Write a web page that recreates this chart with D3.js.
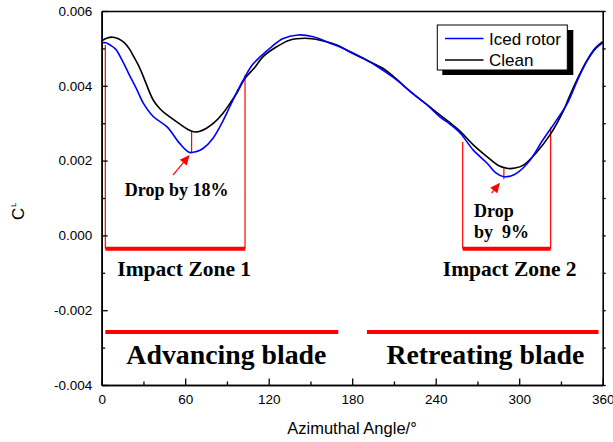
<!DOCTYPE html>
<html>
<head>
<meta charset="utf-8">
<script src="https://cdn.jsdelivr.net/npm/d3@7"></script>
<style>
html,body{margin:0;padding:0;background:#fff;}
svg{display:block;}
</style>
</head>
<body>
<svg id="chart" width="613" height="442"></svg>
<script>
// ---------- data ----------
const seriesNames = ["Iced rotor", "Clean"];
const angleIced = [0,3,6,10,15,20,25,30,37,47,56,63,68,73,80,86,92,98,103,108,114,121,130,141,152,164,176,188,200,210,222,234,243,250,258,267,277,283,289,294,298,303,308,317,327,335,342,349,355,360];
const clIced    = [0.00515,0.00515,0.00509,0.00498,0.00466,0.00428,0.00392,0.00353,0.00318,0.00290,0.00246,0.00222,0.00224,0.00233,0.00260,0.00298,0.00344,0.00390,0.00424,0.00455,0.00478,0.00501,0.00526,0.00536,0.00531,0.00514,0.00496,0.00474,0.00447,0.00421,0.00384,0.00348,0.00317,0.00298,0.00272,0.00228,0.00193,0.00168,0.00157,0.00159,0.00166,0.00181,0.00202,0.00255,0.00309,0.00356,0.00416,0.00468,0.00500,0.00515];
const angleClean = [0,4,8,12,16,20,23,27,30,37,42,47,56,62,66,70,75,81,87,92,97,103,110,116,126,135,146,157,169,178,190,202,210,222,234,243,250,258,267,277,285,292,297,303,312,322,332,335,342,349,355,360];
const clClean    = [0.00520,0.00528,0.00530,0.00526,0.00516,0.00498,0.00478,0.00450,0.00424,0.00362,0.00338,0.00322,0.00298,0.00283,0.00277,0.00278,0.00286,0.00302,0.00326,0.00352,0.00380,0.00420,0.00449,0.00478,0.00505,0.00522,0.00527,0.00522,0.00509,0.00491,0.00469,0.00447,0.00424,0.00384,0.00349,0.00322,0.00302,0.00277,0.00242,0.00210,0.00187,0.00179,0.00180,0.00188,0.00220,0.00268,0.00335,0.00362,0.00420,0.00470,0.00502,0.00518];

const xTicks = [0,60,120,180,240,300,360];
const xTickLabels = ["0","60","120","180","240","300","360"];
const xMinor = [30,90,150,210,270,330];
const yTicks = [-0.004,-0.002,0,0.002,0.004,0.006];
const yTickLabels = ["-0.004","-0.002","0.000","0.002","0.004","0.006"];
const yMinor = [-0.003,-0.001,0.001,0.003,0.005];

// annotations (data units)
const dropLines = [{a:64.6, hi:0.00277, lo:0.00222},{a:289, hi:0.00179, lo:0.00150}];
const arrows = [{a0:51.2, v0:0.00161, a1:63.2, v1:0.00215},{a0:280.2, v0:0.00113, a1:286.2, v1:0.00141}];
const zones = [{a0:2.6, a1:103, top0:0.00509, top1:0.00429, base:-0.00036, label:"Impact Zone 1", la:59.3},
               {a0:259.4, a1:322.6, top0:0.00250, top1:0.00289, base:-0.00036, label:"Impact Zone 2", la:293.2}];
const zoneLabelY = -0.00109;
const blades = [{a0:2.6, a1:170, label:"Advancing blade", la:89.6},{a0:190.6, a1:357, label:"Retreating blade", la:275.7}];
const bladeLineY = -0.00258, bladeLabelY = -0.00344;

// ---------- drawing ----------
const svg = d3.select("#chart");
const x = d3.scaleLinear().domain([0,360]).range([101.7,602.7]);
const y = d3.scaleLinear().domain([-0.004,0.006]).range([385,11]);
const sans = "'Liberation Sans', Arial, sans-serif";
const serif = "'Liberation Serif', 'Times New Roman', serif";

// red annotation lines (under curves)
const ann = svg.append("g");
zones.forEach(z => {
  ann.append("line").attr("x1",x(z.a0)).attr("x2",x(z.a0)).attr("y1",y(z.top0)).attr("y2",y(z.base))
     .attr("stroke","#ff0000").attr("stroke-width",1.2);
  ann.append("line").attr("x1",x(z.a1)).attr("x2",x(z.a1)).attr("y1",y(z.top1)).attr("y2",y(z.base))
     .attr("stroke","#ff0000").attr("stroke-width",1.2);
  ann.append("line").attr("x1",x(z.a0)).attr("x2",x(z.a1)).attr("y1",y(z.base)).attr("y2",y(z.base))
     .attr("stroke","#ff0000").attr("stroke-width",4);
  ann.append("text").attr("x",x(z.la)).attr("y",y(zoneLabelY)).attr("text-anchor","middle")
     .attr("font-family",serif).attr("font-weight","bold").attr("font-size",21.5).attr("fill","#000").text(z.label);
});
blades.forEach(b => {
  ann.append("line").attr("x1",x(b.a0)).attr("x2",x(b.a1)).attr("y1",y(bladeLineY)).attr("y2",y(bladeLineY))
     .attr("stroke","#ff0000").attr("stroke-width",4);
  ann.append("text").attr("x",x(b.la)).attr("y",y(bladeLabelY)).attr("text-anchor","middle")
     .attr("font-family",serif).attr("font-weight","bold").attr("font-size",27.8).attr("fill","#000").text(b.label);
});
dropLines.forEach(d => {
  ann.append("line").attr("x1",x(d.a)).attr("x2",x(d.a)).attr("y1",y(d.hi)).attr("y2",y(d.lo))
     .attr("stroke","#ff0000").attr("stroke-width",1.2);
});
arrows.forEach(a => {
  const x0=x(a.a0), y0=y(a.v0), x1=x(a.a1), y1=y(a.v1);
  const ang = Math.atan2(y1-y0, x1-x0);
  const hl = 10, hw = 4.5;
  const bx = x1 - hl*Math.cos(ang), by = y1 - hl*Math.sin(ang);
  ann.append("line").attr("x1",x0).attr("y1",y0).attr("x2",bx).attr("y2",by).attr("stroke","#ff0000").attr("stroke-width",1.2);
  ann.append("path").attr("d",`M${x1},${y1}L${bx - hw*Math.sin(ang)},${by + hw*Math.cos(ang)}L${bx + hw*Math.sin(ang)},${by - hw*Math.cos(ang)}Z`)
     .attr("fill","#ff0000");
});
ann.append("text").attr("x",x(53.9)).attr("y",y(0.00105)).attr("text-anchor","middle")
   .attr("font-family",serif).attr("font-weight","bold").attr("font-size",18).text("Drop by 18%");
ann.append("text").attr("x",x(267.5)).attr("y",y(0.000484))
   .attr("font-family",serif).attr("font-weight","bold").attr("font-size",18).text("Drop");
ann.append("text").attr("x",x(267.5)).attr("y",y(-0.000077)).attr("xml:space","preserve").style("white-space","pre")
   .attr("font-family",serif).attr("font-weight","bold").attr("font-size",18).text("by  9%");

// curves
const line = d3.line().x(d=>x(d[0])).y(d=>y(d[1])).curve(d3.curveCatmullRom.alpha(0.5));
svg.append("path").datum(angleClean.map((a,i)=>[a,clClean[i]])).attr("d",line)
   .attr("fill","none").attr("stroke","#000").attr("stroke-width",1.6);
svg.append("path").datum(angleIced.map((a,i)=>[a,clIced[i]])).attr("d",line)
   .attr("fill","none").attr("stroke","#0000ff").attr("stroke-width",1.6);

// axes
const axStroke = 1.6;
const gB = svg.append("g").attr("transform",`translate(0,${y(-0.004)})`)
  .call(d3.axisBottom(x).tickValues(xTicks).tickSize(-6.5).tickSizeOuter(0).tickPadding(9)
        .tickFormat((d,i)=>xTickLabels[i]));
gB.selectAll("text").attr("font-family",sans).attr("font-size",13.5).attr("fill","#000");
const gBm = svg.append("g").attr("transform",`translate(0,${y(-0.004)})`)
  .call(d3.axisBottom(x).tickValues(xMinor).tickSize(-3.5).tickSizeOuter(0).tickFormat(""));
const gL = svg.append("g").attr("transform",`translate(${x(0)},0)`)
  .call(d3.axisLeft(y).tickValues(yTicks).tickSize(-6).tickSizeOuter(0).tickPadding(9.5)
        .tickFormat((d,i)=>yTickLabels[i]));
gL.selectAll("text").attr("font-family",sans).attr("font-size",13.5).attr("fill","#000");
const gLm = svg.append("g").attr("transform",`translate(${x(0)},0)`)
  .call(d3.axisLeft(y).tickValues(yMinor).tickSize(-3.5).tickSizeOuter(0).tickFormat(""));
const gR = svg.append("g").attr("transform",`translate(${x(360)},0)`)
  .call(d3.axisRight(y).tickValues(yTicks.concat(yMinor)).tickSize(3).tickSizeOuter(0).tickFormat(""));
const gT = svg.append("g").attr("transform",`translate(0,${y(0.006)})`)
  .call(d3.axisTop(x).tickValues([]).tickSizeOuter(0));
[gB,gBm,gL,gLm,gR,gT].forEach(g=>{
  g.selectAll("path.domain").attr("stroke","#000").attr("stroke-width",axStroke);
  g.selectAll(".tick line").attr("stroke","#000").attr("stroke-width",1.3);
});

// axis titles
svg.append("text").attr("x",352).attr("y",434).attr("text-anchor","middle")
   .attr("font-family",sans).attr("font-size",16.5).attr("fill","#000").text("Azimuthal Angle/°");
const yt = svg.append("g").attr("transform","translate(24,220) rotate(-90)");
yt.append("text").attr("x",0).attr("y",0).attr("font-family",sans).attr("font-size",17).text("C");
yt.append("text").attr("x",13).attr("y",-8).attr("font-family",sans).attr("font-size",8).text("L");

// legend
const lg = svg.append("g");
lg.append("rect").attr("x",442.3).attr("y",30).attr("width",131).attr("height",45).attr("fill","#000");
lg.append("rect").attr("x",437.3).attr("y",25).attr("width",130).attr("height",45).attr("fill","#fff")
  .attr("stroke","#000").attr("stroke-width",1);
const legColors = ["#0000ff","#000"];
seriesNames.forEach((n,i)=>{
  const ly = 38.5 + i*21.5;
  lg.append("line").attr("x1",445).attr("x2",483.5).attr("y1",ly).attr("y2",ly)
    .attr("stroke",legColors[i]).attr("stroke-width",1.6);
  lg.append("text").attr("x",489).attr("y",ly).attr("dy","0.36em").attr("font-family",sans)
    .attr("font-size",17).attr("fill","#000").text(n);
});
</script>
</body>
</html>
